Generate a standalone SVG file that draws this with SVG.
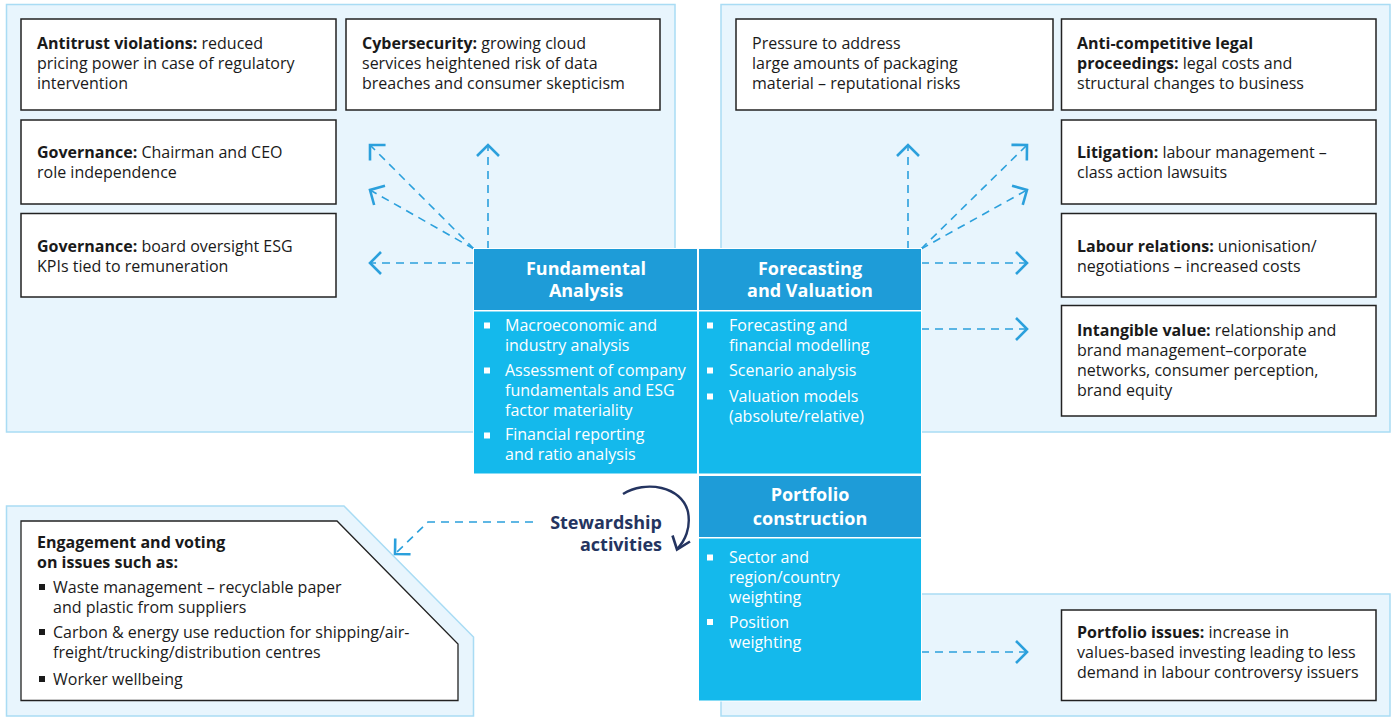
<svg xmlns="http://www.w3.org/2000/svg" width="1394" height="717" viewBox="0 0 1394 717">
<defs>
<style>
.panel{fill:#e8f5fd;stroke:#a9dcf4;stroke-width:1.5}
.box{fill:#fff;stroke:#222;stroke-width:1.5}
.t{font-family:"Open Sans","Liberation Sans",sans-serif;font-size:16px;fill:#1a1a1a}
.b{font-weight:700}
.hd{font-family:"Open Sans","Liberation Sans",sans-serif;font-size:18px;font-weight:700;fill:#fff;text-anchor:middle}
.wt{font-family:"Open Sans","Liberation Sans",sans-serif;font-size:16px;fill:#fff}
.hdr{fill:#1e9cd8}
.body{fill:#14b9ec}
.wb{fill:#fff}
.kb{fill:#1a1a1a}
.conn{fill:none;stroke:#2ba0dc;stroke-width:1.6;stroke-dasharray:8 6}
.stw{font-family:"Open Sans","Liberation Sans",sans-serif;font-size:18px;font-weight:700;fill:#243460;text-anchor:end}
</style>
<marker id="chev" markerUnits="userSpaceOnUse" viewBox="-14 -14 16 28" markerWidth="16" markerHeight="28" refX="0" refY="0" orient="auto" overflow="visible">
<path d="M -11 -11 L 0 0 L -11 11" fill="none" stroke="#2ba0dc" stroke-width="2.6" stroke-dasharray="none"/>
</marker>
</defs>
<rect width="1394" height="717" fill="#fff"/>

<g id="panels">
<rect class="panel" x="6.5" y="4.5" width="668.5" height="427.5"/>
<rect class="panel" x="721" y="4.5" width="669" height="427.5"/>
<rect class="panel" x="721" y="594" width="669" height="122"/>
<polygon class="panel" points="6.5,506 344,506 473.5,637 473.5,716 6.5,716"/>
</g>

<g id="connectors">
<path class="conn" d="M474 263 L370 263" marker-end="url(#chev)"/>
<path class="conn" d="M488 249 L488 145" marker-end="url(#chev)"/>
<path class="conn" d="M474 249 L370 145" marker-end="url(#chev)"/>
<path class="conn" d="M474 249 L370 190" marker-end="url(#chev)"/>
<path class="conn" d="M908 249 L908 145" marker-end="url(#chev)"/>
<path class="conn" d="M921 249 L1027 145" marker-end="url(#chev)"/>
<path class="conn" d="M921 249 L1027 190" marker-end="url(#chev)"/>
<path class="conn" d="M921 263 L1027 263" marker-end="url(#chev)"/>
<path class="conn" d="M921 329 L1027 329" marker-end="url(#chev)"/>
<path class="conn" d="M921 652 L1027 652" marker-end="url(#chev)"/>
<path class="conn" d="M533 522 L428 522 L395 554" marker-end="url(#chev)"/>
<path d="M623 494 C645 480 682 486 688 512 C691 528 685 541 677 549" fill="none" stroke="#243460" stroke-width="2.4"/>
<path d="M672.5 535.5 L677 549.5 L690 541.5" fill="none" stroke="#243460" stroke-width="2.6"/>
</g>

<g id="antitrust">
<rect class="box" x="21" y="19" width="315" height="91"/>
<text class="t" x="37" y="49"><tspan class="b">Antitrust violations:</tspan> reduced</text>
<text class="t" x="37" y="69">pricing power in case of regulatory</text>
<text class="t" x="37" y="89">intervention</text>
</g>
<g id="cybersecurity">
<rect class="box" x="346" y="19" width="314" height="91"/>
<text class="t" x="362" y="49"><tspan class="b">Cybersecurity:</tspan> growing cloud</text>
<text class="t" x="362" y="69">services heightened risk of data</text>
<text class="t" x="362" y="89">breaches and consumer skepticism</text>
</g>
<g id="governance1">
<rect class="box" x="21" y="120" width="315" height="84"/>
<text class="t" x="37" y="158"><tspan class="b">Governance:</tspan> Chairman and CEO</text>
<text class="t" x="37" y="178">role independence</text>
</g>
<g id="governance2">
<rect class="box" x="21" y="213.5" width="315" height="83.5"/>
<text class="t" x="37" y="252"><tspan class="b">Governance:</tspan> board oversight ESG</text>
<text class="t" x="37" y="272">KPIs tied to remuneration</text>
</g>

<g id="pressure">
<rect class="box" x="736" y="19" width="317" height="91"/>
<text class="t" x="752" y="49">Pressure to address</text>
<text class="t" x="752" y="69">large amounts of packaging</text>
<text class="t" x="752" y="89">material – reputational risks</text>
</g>
<g id="anticompetitive">
<rect class="box" x="1061.5" y="19" width="314.5" height="91"/>
<text class="t" x="1077" y="49"><tspan class="b">Anti-competitive legal</tspan></text>
<text class="t" x="1077" y="69"><tspan class="b">proceedings:</tspan> legal costs and</text>
<text class="t" x="1077" y="89">structural changes to business</text>
</g>
<g id="litigation">
<rect class="box" x="1061.5" y="120" width="314.5" height="84"/>
<text class="t" x="1077" y="158"><tspan class="b">Litigation:</tspan> labour management –</text>
<text class="t" x="1077" y="178">class action lawsuits</text>
</g>
<g id="labour">
<rect class="box" x="1061.5" y="213.5" width="314.5" height="83.5"/>
<text class="t" x="1077" y="252"><tspan class="b">Labour relations:</tspan> unionisation/</text>
<text class="t" x="1077" y="272">negotiations – increased costs</text>
</g>
<g id="intangible">
<rect class="box" x="1061.5" y="305.5" width="314.5" height="110.5"/>
<text class="t" x="1077" y="336"><tspan class="b">Intangible value:</tspan> relationship and</text>
<text class="t" x="1077" y="356">brand management–corporate</text>
<text class="t" x="1077" y="376">networks, consumer perception,</text>
<text class="t" x="1077" y="396">brand equity</text>
</g>
<g id="portfolio-issues">
<rect class="box" x="1061.5" y="610" width="314.5" height="90.5"/>
<text class="t" x="1077" y="638"><tspan class="b">Portfolio issues:</tspan> increase in</text>
<text class="t" x="1077" y="658">values-based investing leading to less</text>
<text class="t" x="1077" y="678">demand in labour controversy issuers</text>
</g>

<g id="engagement">
<polygon points="21,521 337,521 458,644 458,700.5 21,700.5" fill="#fff" stroke="#222" stroke-width="1.3"/>
<text class="t b" x="37" y="548">Engagement and voting</text>
<text class="t b" x="37" y="568">on issues such as:</text>
<rect class="kb" x="39" y="584" width="6" height="6"/>
<text class="t" x="53" y="593">Waste management – recyclable paper</text>
<text class="t" x="53" y="613">and plastic from suppliers</text>
<rect class="kb" x="39" y="629" width="6" height="6"/>
<text class="t" x="53" y="638">Carbon &amp; energy use reduction for shipping/air-</text>
<text class="t" x="53" y="658">freight/trucking/distribution centres</text>
<rect class="kb" x="39" y="676" width="6" height="6"/>
<text class="t" x="53" y="685">Worker wellbeing</text>
</g>

<g id="stewardship">
<text class="stw" x="662" y="529">Stewardship</text>
<text class="stw" x="662" y="551">activities</text>
</g>

<g id="fundamental-analysis">
<rect x="473" y="248" width="225" height="227" fill="#fff"/>
<rect class="hdr" x="474" y="249" width="223" height="61"/>
<rect class="body" x="474" y="311.5" width="223" height="162"/>
<text class="hd" x="586" y="275">Fundamental</text>
<text class="hd" x="586" y="297">Analysis</text>
<rect class="wb" x="484" y="322.5" width="6" height="6"/>
<text class="wt" x="505" y="331">Macroeconomic and</text>
<text class="wt" x="505" y="351">industry analysis</text>
<rect class="wb" x="484" y="367.5" width="6" height="6"/>
<text class="wt" x="505" y="376">Assessment of company</text>
<text class="wt" x="505" y="396">fundamentals and ESG</text>
<text class="wt" x="505" y="416">factor materiality</text>
<rect class="wb" x="484" y="432.5" width="6" height="6"/>
<text class="wt" x="505" y="440">Financial reporting</text>
<text class="wt" x="505" y="460">and ratio analysis</text>
</g>

<g id="forecasting-valuation">
<rect x="698" y="248" width="224" height="227" fill="#fff"/>
<rect class="hdr" x="699" y="249" width="222" height="61"/>
<rect class="body" x="699" y="311.5" width="222" height="162"/>
<text class="hd" x="810" y="275">Forecasting</text>
<text class="hd" x="810" y="297">and Valuation</text>
<rect class="wb" x="707" y="322.5" width="6" height="6"/>
<text class="wt" x="729" y="331">Forecasting and</text>
<text class="wt" x="729" y="351">financial modelling</text>
<rect class="wb" x="707" y="367.5" width="6" height="6"/>
<text class="wt" x="729" y="376">Scenario analysis</text>
<rect class="wb" x="707" y="393.5" width="6" height="6"/>
<text class="wt" x="729" y="402">Valuation models</text>
<text class="wt" x="729" y="422">(absolute/relative)</text>
</g>

<g id="portfolio-construction">
<rect x="698" y="474.5" width="224" height="227" fill="#fff"/>
<rect class="hdr" x="699" y="476" width="222" height="61"/>
<rect class="body" x="699" y="538.5" width="222" height="162"/>
<text class="hd" x="810" y="501">Portfolio</text>
<text class="hd" x="810" y="525">construction</text>
<rect class="wb" x="707" y="554.5" width="6" height="6"/>
<text class="wt" x="729" y="563">Sector and</text>
<text class="wt" x="729" y="583">region/country</text>
<text class="wt" x="729" y="603">weighting</text>
<rect class="wb" x="707" y="619" width="6" height="6"/>
<text class="wt" x="729" y="628">Position</text>
<text class="wt" x="729" y="648">weighting</text>
</g>
</svg>
